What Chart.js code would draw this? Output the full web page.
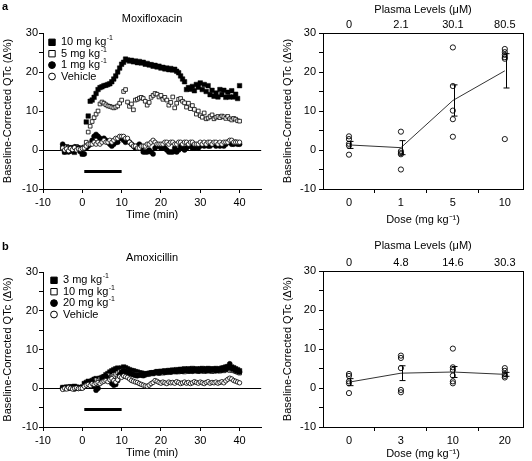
<!DOCTYPE html>
<html>
<head>
<meta charset="utf-8">
<script src="https://cdn.jsdelivr.net/npm/chart.js@4.4.1/dist/chart.umd.min.js"></script>
<style>
html, body { margin: 0; padding: 0; background: #fff; }
#wrap { position: relative; width: 532px; height: 461px; overflow: hidden; }
canvas { position: absolute; }
</style>
</head>
<body>
<div id="wrap">
<canvas id="moxi-time" width="266" height="230" style="left:0;top:0"></canvas>
<canvas id="moxi-dose" width="266" height="230" style="left:266px;top:0"></canvas>
<canvas id="amox-time" width="266" height="231" style="left:0;top:230px"></canvas>
<canvas id="amox-dose" width="266" height="231" style="left:266px;top:230px"></canvas>
</div>
<script>
// time axis (min), one reading every 30 s
var times = [
  -5, -4.5, -4, -3.5, -3, -2.5, -2, -1.5, -1, -0.5,
  0, 0.5, 1, 1.5, 2, 2.5, 3, 3.5, 4, 4.5,
  5, 5.5, 6, 6.5, 7, 7.5, 8, 8.5, 9, 9.5,
  10, 10.5, 11, 11.5, 12, 12.5, 13, 13.5, 14, 14.5,
  15, 15.5, 16, 16.5, 17, 17.5, 18, 18.5, 19, 19.5,
  20, 20.5, 21, 21.5, 22, 22.5, 23, 23.5, 24, 24.5,
  25, 25.5, 26, 26.5, 27, 27.5, 28, 28.5, 29, 29.5,
  30, 30.5, 31, 31.5, 32, 32.5, 33, 33.5, 34, 34.5,
  35, 35.5, 36, 36.5, 37, 37.5, 38, 38.5, 39, 39.5,
  40
];
var timeTicks = [-10, 0, 10, 20, 30, 40];
var qtcTicks = [-10, -5, 0, 5, 10, 15, 20, 25, 30];
var infusionTimes = [0.5, 10];
var infusionLevel = -5.5;

// moxifloxacin time course (baseline-corrected QTc, %)
var moxi10 = [
  0.5, -0.5, 0.8, -0.3, 0.6, 0.2, -0.6, 0.7, 0.3, -0.2,
  -1.0, 0.5, 7.2, 8.7, 12.5, 12.8, 13.5, 14.5, 15.5, 16.0,
  16.2, 16.5, 16.6, 16.8, 17.0, 17.5, 18.2, 19.0, 20.0, 21.0,
  22.0, 22.5, 23.3, 23.1, 22.8, 23.0, 22.6, 22.8, 22.4, 22.7,
  22.3, 22.5, 22.0, 22.2, 21.8, 21.9, 21.5, 21.7, 21.3, 21.5,
  21.0, 21.2, 20.8, 21.0, 20.6, 20.9, 20.5, 20.7, 20.2, 19.8,
  19.0, 18.2, 17.5, 15.5, 16.0, 15.6, 16.3, 15.2, 16.8, 16.1,
  17.2, 15.5, 16.8, 15.0, 16.5, 14.2, 15.3, 13.8, 14.6, 13.6,
  15.5, 14.2, 15.3, 13.5, 14.8, 13.6, 15.2, 13.6, 14.3, 13.2,
  16.5
];
var moxi5 = [
  0.3, 0.8, 0.2, 0.6, 0.0, 0.5, 0.4, 0.9, 0.2, 0.6,
  0.3, 0.8, 2.0, 4.6, 6.1, 7.3, 8.3, 9.2, 10.0, 11.8,
  12.3, 12.0, 11.6, 11.3, 11.2, 11.0, 10.8, 11.0, 11.3, 12.0,
  12.8, 15.0, 15.5, 12.3, 11.2, 11.8, 10.3, 12.8, 13.0, 13.3,
  13.5, 13.2, 12.5, 11.5, 12.2, 13.5, 14.0, 14.5, 14.3, 13.6,
  14.0, 13.0, 13.5, 12.8, 11.5, 12.2, 13.6, 10.8, 12.0, 13.0,
  13.2, 12.5, 12.1, 11.0, 12.0, 10.6, 11.4, 10.4, 9.2, 10.0,
  8.8, 8.4, 9.5, 8.0, 8.2, 8.6, 9.0, 8.0, 8.4, 8.6,
  8.3, 8.7, 8.5, 8.1, 8.6, 8.0, 7.7, 8.1, 7.9, 7.5,
  7.4
];
var moxi1 = [
  1.5, -0.5, 0.0, -0.5, 0.5, -0.3, 0.8, 0.2, 0.6, -0.4,
  -1.0, -1.0, 0.5, 1.0, 1.5, 2.5, 3.5, 4.0, 3.5, 3.0,
  2.5, 3.0, 2.5, 2.0, 1.5, 1.0, 1.5, 2.0, 2.0, 3.0,
  3.0, 2.5, 2.0, 2.5, 2.0, 1.5, 1.0, 0.5, 1.0, 1.5,
  0.5, -0.5, -0.5, -0.5, 0.0, -0.5, -1.0, 0.5, 1.0, 1.0,
  0.5, 1.0, 0.5, 0.0, -0.5, -0.5, -0.5, 0.5, -0.5, 0.0,
  1.0, 0.5, 0.0, 0.5, 1.0, 1.0, 0.5, 0.5, 1.0, 0.5,
  1.0, 1.5, 1.0, 1.5, 1.0, 1.0, 1.5, 1.5, 1.0, 1.5,
  1.0, 1.5, 1.0, 1.5, 2.0, 2.0, 1.5, 1.5, 2.0, 1.5,
  1.5
];
var moxiVehicle = [
  0.5, 0.0, 0.3, -0.2, 0.4, 0.1, 0.6, 0.0, 0.3, 0.2,
  0.4, 0.5, 1.0, 1.5, 1.5, 1.5, 2.0, 1.5, 2.0, 1.5,
  2.0, 2.5, 2.0, 2.0, 2.5, 2.0, 2.5, 3.0, 3.0, 3.5,
  3.5, 3.5, 3.0, 3.0, 2.0, 1.5, 1.0, 1.0, 0.5, 0.5,
  1.0, 1.0, 1.0, 1.5, 1.5, 2.0, 2.5, 2.0, 1.5, 1.5,
  1.5, 1.5, 2.0, 2.0, 1.5, 2.0, 2.0, 1.5, 1.5, 2.0,
  2.0, 1.5, 2.0, 2.0, 1.5, 2.0, 2.0, 1.5, 1.5, 1.5,
  2.0, 1.5, 2.0, 1.5, 2.0, 2.0, 1.5, 2.0, 2.0, 1.5,
  2.0, 1.5, 2.0, 2.0, 2.0, 2.5, 2.5, 2.0, 2.0, 2.0,
  2.0
];

// amoxicillin time course
var amox3 = [
  0.2, 0.0, 0.3, 0.1, 0.4, 0.2, 0.5, 0.3, 0.1, 0.2,
  0.3, 1.2, 1.5, 1.8, 1.2, 2.0, 2.3, 2.5, 1.5, 2.6,
  2.8, 3.0, 3.5, 3.8, 4.2, 4.5, 4.8, 5.0, 5.2, 5.0,
  5.2, 5.5, 5.3, 5.0, 4.8, 4.6, 4.5, 4.3, 4.2, 4.0,
  3.9, 3.8, 3.7, 3.6, 3.8, 3.9, 4.0, 4.1, 4.3, 4.2,
  4.4, 4.3, 4.5, 4.4, 4.6, 4.5, 4.7, 4.6, 4.8, 4.7,
  4.9, 4.8, 5.0, 4.8, 5.0, 4.9, 5.1, 4.9, 5.0, 4.8,
  5.0, 5.1, 4.9, 5.0, 5.1, 5.0, 4.9, 5.0, 5.1, 4.9,
  5.0, 5.2, 5.3, 5.5, 5.6, 5.4, 5.5, 5.3, 5.0, 4.8,
  4.5
];
var amox10 = [
  0.0, 0.2, -0.1, 0.3, 0.0, 0.2, 0.1, -0.1, 0.2, 0.0,
  0.1, 0.6, 0.9, 1.3, 1.6, 1.4, 1.9, 2.2, 2.0, 2.4,
  2.6, 2.9, 3.1, 3.4, 2.7, 2.5, 3.0, 3.6, 4.0, 4.3,
  4.5, 4.6, 4.4, 4.2, 4.0, 3.8, 3.7, 3.6, 3.4, 3.5,
  3.3, 3.2, 3.4, 3.5, 3.6, 3.8, 3.7, 3.9, 4.0, 3.8,
  4.0, 3.9, 4.1, 4.0, 4.2, 4.1, 4.3, 4.2, 4.4, 4.2,
  4.3, 4.4, 4.2, 4.5, 4.3, 4.4, 4.6, 4.4, 4.5, 4.3,
  4.4, 4.5, 4.3, 4.6, 4.4, 4.5, 4.3, 4.4, 4.6, 4.5,
  4.4, 4.6, 4.5, 4.7, 4.8, 4.6, 4.7, 4.5, 4.3, 4.1,
  3.9
];
var amox20 = [
  0.1, -0.1, 0.2, 0.0, 0.3, 0.1, -0.2, 0.2, 0.0, 0.1,
  0.2, 0.5, 1.0, 1.5, 1.0, 1.8, 0.5, -0.5, 0.0, 1.5,
  2.5, 3.0, 3.2, 2.5, 1.8, 1.2, 0.8, 1.0, 2.0, 3.5,
  4.2, 4.5, 4.3, 4.1, 3.9, 3.7, 3.5, 3.3, 3.2, 3.4,
  3.5, 3.3, 3.6, 3.8, 3.9, 4.0, 3.9, 4.1, 4.2, 4.0,
  4.2, 4.3, 4.1, 4.3, 4.4, 4.2, 4.5, 4.4, 4.3, 4.6,
  4.5, 4.4, 4.6, 4.7, 4.5, 4.6, 4.4, 4.7, 4.6, 4.5,
  4.7, 4.6, 4.8, 4.5, 4.7, 4.6, 4.8, 4.7, 4.5, 4.6,
  4.8, 4.7, 5.0, 4.9, 5.2, 6.3, 5.1, 4.9, 4.6, 4.4,
  4.2
];
var amoxVehicle = [
  -0.3, 0.0, -0.2, 0.2, 0.0, -0.2, 0.0, 0.1, -0.1, 0.0,
  0.0, 0.5, 0.8, 1.0, 0.7, 1.2, 1.0, 1.3, 1.5, 1.2,
  1.6, 1.8, 2.0, 1.7, 2.2, 2.5, 2.0, 1.6, 2.2, 3.0,
  2.8, 3.2, 3.0, 2.8, 2.4, 2.0, 1.8, 1.6, 1.5, 1.2,
  1.0, 0.8, 0.6, 0.5, 0.8, 1.2, 1.5, 2.0, 1.8, 1.5,
  1.3, 1.6, 1.4, 1.2, 1.6, 1.4, 1.5, 1.3, 1.7, 1.5,
  1.2, 1.4, 1.6, 1.3, 1.5, 1.2, 1.4, 1.7, 1.5, 1.3,
  1.6, 1.4, 1.2, 1.5, 1.7, 1.3, 1.5, 1.4, 1.6, 1.3,
  1.5, 1.7, 1.4, 1.9, 2.3, 2.6, 2.4, 2.0, 1.8, 1.6,
  1.4
];

// dose-response panels
var moxiDoses = ['0', '1', '5', '10'];
var moxiPlasma = ['0', '2.1', '30.1', '80.5'];
var moxiIndividual = [
  [3.5, 2.8, 1.6, 1.1, -1.2],
  [4.7, -0.3, -0.8, -1.1, -5.0],
  [26.3, 16.4, 10.1, 7.9, 3.4],
  [25.9, 25.1, 24.4, 23.8, 23.4, 2.8]
];
var moxiMean = [1.3, 0.6, 12.7, 20.3];
var moxiSem = [0.9, 1.8, 4.0, 4.4];

var amoxDoses = ['0', '3', '10', '20'];
var amoxPlasma = ['0', '4.8', '14.6', '30.3'];
var amoxIndividual = [
  [3.6, 3.1, 1.7, 1.2, -1.3],
  [8.3, 7.7, 5.1, -0.5, -1.1],
  [10.1, 5.3, 4.6, 3.2, 1.7, 1.2],
  [5.1, 4.4, 3.6, 3.1, 2.7]
];
var amoxMean = [1.5, 3.8, 4.1, 3.5];
var amoxSem = [0.9, 1.9, 1.4, 0.5];

var FONT = "'Liberation Sans', Arial, Helvetica, sans-serif";
Chart.defaults.font.family = FONT;
Chart.defaults.font.size = 11;
Chart.defaults.color = '#000';

function drawMarker(ctx, style, x, y, r, filled) {
  ctx.beginPath();
  if (style === 'rect') ctx.rect(x - r, y - r, 2 * r, 2 * r);
  else ctx.arc(x, y, r, 0, Math.PI * 2);
  ctx.fillStyle = filled ? '#000' : '#fff';
  ctx.fill();
  ctx.lineWidth = 1;
  ctx.strokeStyle = '#000';
  ctx.stroke();
}

// title, panel letter and in-plot legend of the time-course panels
var panelPlugin = {
  id: 'panel',
  afterDraw: function (chart, args, opts) {
    var ctx = chart.ctx, a = chart.chartArea;
    ctx.save();
    ctx.fillStyle = '#000';
    ctx.textBaseline = 'middle';
    ctx.font = 'bold 11px ' + FONT;
    ctx.textAlign = 'left';
    ctx.fillText(opts.letter, 2, opts.letterY);
    ctx.font = '11px ' + FONT;
    ctx.textAlign = 'center';
    ctx.fillText(opts.title, (a.left + a.right) / 2, a.top - 14);
    ctx.textAlign = 'left';
    var y = a.top + opts.dy;
    chart.data.datasets.forEach(function (ds) {
      if (!ds.legendText) return;
      var mx = a.left + opts.dx;
      drawMarker(ctx, ds.pointStyle, mx, y, ds.pointStyle === 'rect' ? 3.2 : 3.4, ds.legendFilled);
      var txt = ds.legendText, sup = '';
      if (txt.slice(-2) === '-1') { sup = '-1'; txt = txt.slice(0, -2); }
      ctx.fillStyle = '#000';
      ctx.font = '11px ' + FONT;
      ctx.fillText(txt, mx + 9, y);
      if (sup) {
        var w = ctx.measureText(txt).width;
        ctx.font = '7px ' + FONT;
        ctx.fillText(sup, mx + 9 + w + 0.5, y - 4);
      }
      y += opts.gap;
    });
    ctx.restore();
  }
};

// mean +/- SEM bars and frame of the dose-response panels
var doseBarsPlugin = {
  id: 'doseBars',
  afterDatasetsDraw: function (chart, args, opts) {
    var ctx = chart.ctx, xs = chart.scales.x, ys = chart.scales.y, a = chart.chartArea;
    ctx.save();
    ctx.strokeStyle = '#000';
    ctx.lineWidth = 1;
    opts.mean.forEach(function (m, i) {
      var px = Math.round(xs.getPixelForValue(i)) + 1.5;
      var hi = ys.getPixelForValue(m + opts.sem[i]);
      var lo = ys.getPixelForValue(m - opts.sem[i]);
      ctx.beginPath();
      ctx.moveTo(px, hi); ctx.lineTo(px, lo);
      ctx.moveTo(px - 3, hi); ctx.lineTo(px + 3, hi);
      ctx.moveTo(px - 3, lo); ctx.lineTo(px + 3, lo);
      ctx.stroke();
    });
    ctx.strokeRect(Math.round(a.left) + 0.5, Math.round(a.top) + 0.5,
      Math.round(a.right - a.left), Math.round(a.bottom - a.top));
    ctx.restore();
  }
};

function series(label, values, style, filled, order) {
  return {
    label: label,
    legendText: label,
    legendFilled: filled,
    data: times.map(function (t, i) { return { x: t, y: values[i] }; }),
    pointStyle: style,
    pointRadius: style === 'rect' ? (filled ? 3.2 : 2.6) : (filled ? 2.5 : 2.2),
    pointBackgroundColor: filled ? '#000' : '#fff',
    pointBorderColor: '#000',
    pointBorderWidth: filled ? 0.5 : 0.8,
    showLine: false,
    order: order
  };
}

function qtcAxis(width, titlePad, zeroLine) {
  return {
    type: 'linear', min: -10, max: 30,
    afterBuildTicks: function (s) { s.ticks = qtcTicks.map(function (v) { return { value: v }; }); },
    afterFit: function (s) { s.width = width; },
    ticks: { autoSkip: false, padding: width > 50 ? 3 : 1, callback: function (v) { return v % 10 === 0 ? String(v) : ''; } },
    grid: {
      drawOnChartArea: zeroLine, tickLength: 4, tickColor: '#000',
      color: function (c) { return zeroLine && c.tick && c.tick.value === 0 ? '#000' : 'rgba(0,0,0,0)'; }
    },
    border: { color: '#000' },
    title: { display: true, text: 'Baseline-Corrected QTc (\u0394%)', padding: { top: titlePad, bottom: 0 } }
  };
}

function timeChart(id, title, letter, letterY, sets, topPad, bottomH, titlePad, legendDx, legendDy) {
  var bar = {
    data: infusionTimes.map(function (t) { return { x: t, y: infusionLevel }; }),
    showLine: true, borderColor: '#000', borderWidth: 3, pointRadius: 0, order: 20
  };
  return new Chart(document.getElementById(id), {
    type: 'scatter',
    data: { datasets: sets.concat([bar]) },
    options: {
      responsive: false, animation: false,
      layout: { padding: { top: topPad, right: 1, left: 0, bottom: 0 } },
      plugins: {
        legend: { display: false }, tooltip: { enabled: false },
        panel: { title: title, letter: letter, letterY: letterY, dx: legendDx, dy: legendDy, gap: 11.4 }
      },
      scales: {
        x: {
          type: 'linear', min: -10, max: 45.5,
          afterBuildTicks: function (s) { s.ticks = timeTicks.map(function (v) { return { value: v }; }); },
          afterFit: function (s) { s.height = bottomH; },
          ticks: { autoSkip: false, maxRotation: 0, padding: 3 },
          grid: { drawOnChartArea: false, tickLength: 4, color: '#000' },
          border: { color: '#000' },
          title: { display: true, text: 'Time (min)', padding: { top: 0, bottom: titlePad } }
        },
        y: qtcAxis(43, 1.4, true)
      }
    },
    plugins: [panelPlugin]
  });
}

function doseChart(id, doses, plasma, individual, mean, sem, topH, bottomH, plasmaPad, doseTitlePad) {
  var pts = [];
  individual.forEach(function (vals, i) {
    vals.forEach(function (v) { pts.push({ x: i, y: v }); });
  });
  var doseTicks = [0, 0.5, 1, 1.5, 2, 2.5, 3];
  return new Chart(document.getElementById(id), {
    type: 'scatter',
    data: {
      datasets: [
        { data: pts, pointStyle: 'circle', pointRadius: 2.6, pointBackgroundColor: 'rgba(0,0,0,0)',
          pointBorderColor: '#000', pointBorderWidth: 0.9, order: 1 },
        { data: mean.map(function (m, i) { return { x: i, y: m }; }), showLine: true,
          borderColor: '#333', borderWidth: 1, pointRadius: 0, order: 0 }
      ]
    },
    options: {
      responsive: false, animation: false,
      layout: { padding: { top: 0, right: 9, left: 0, bottom: 0 } },
      plugins: { legend: { display: false }, tooltip: { enabled: false }, doseBars: { mean: mean, sem: sem } },
      scales: {
        x: {
          type: 'linear', position: 'bottom', min: -0.5, max: 3.35,
          afterBuildTicks: function (s) { s.ticks = doseTicks.map(function (v) { return { value: v }; }); },
          afterFit: function (s) { s.height = bottomH; },
          ticks: { autoSkip: false, maxRotation: 0, padding: 3,
            callback: function (v) { return Number.isInteger(v) ? doses[v] : ''; } },
          grid: { drawOnChartArea: false, tickLength: 4,
            tickColor: function (c) { return c.tick && Number.isInteger(c.tick.value) ? 'rgba(0,0,0,0)' : '#000'; } },
          border: { color: '#000' },
          title: { display: true, text: 'Dose (mg kg\u207B\u00B9)', padding: { top: 0, bottom: doseTitlePad } }
        },
        x2: {
          type: 'linear', position: 'top', min: -0.5, max: 3.35,
          afterBuildTicks: function (s) { s.ticks = [0, 1, 2, 3].map(function (v) { return { value: v }; }); },
          afterFit: function (s) { s.height = topH; },
          ticks: { autoSkip: false, maxRotation: 0, padding: 1,
            callback: function (v) { return plasma[v]; } },
          grid: { display: false, drawTicks: false },
          border: { display: false },
          title: { display: true, text: 'Plasma Levels (\u03BCM)', padding: { top: plasmaPad, bottom: 0 } }
        },
        y: qtcAxis(57, 15.4, false)
      }
    },
    plugins: [doseBarsPlugin]
  });
}

timeChart('moxi-time', 'Moxifloxacin', 'a', 7, [
  series('10 mg kg-1', moxi10, 'rect', true, 3),
  series('5 mg kg-1', moxi5, 'rect', false, 2),
  series('1 mg kg-1', moxi1, 'circle', true, 1),
  series('Vehicle', moxiVehicle, 'circle', false, 0)
], 33, 41, 8.4, 9, 9.3);

doseChart('moxi-dose', moxiDoses, moxiPlasma, moxiIndividual, moxiMean, moxiSem, 33, 41, 3.0, 3.0);

timeChart('amox-time', 'Amoxicillin', 'b', 17, [
  series('3 mg kg-1', amox3, 'rect', true, 3),
  series('10 mg kg-1', amox10, 'rect', false, 2),
  series('20 mg kg-1', amox20, 'circle', true, 1),
  series('Vehicle', amoxVehicle, 'circle', false, 0)
], 42, 34, 1.4, 11, 8.3);

doseChart('amox-dose', amoxDoses, amoxPlasma, amoxIndividual, amoxMean, amoxSem, 41, 34, 9.1, 0.6);
</script>
</body>
</html>
